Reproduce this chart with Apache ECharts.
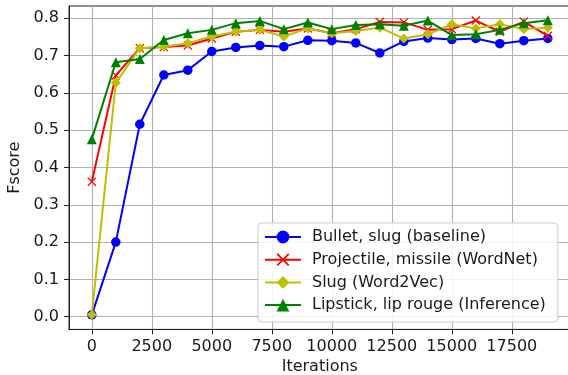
<!DOCTYPE html>
<html>
<head>
<meta charset="utf-8">
<script src="https://cdn.jsdelivr.net/npm/echarts@6/dist/echarts.min.js"></script>
<style>html,body{margin:0;padding:0;background:#fff}#c{width:568px;height:375px}</style>
</head>
<body>
<div id="c"></div>
<script>
const iterations = [0,1000,2000,3000,4000,5000,6000,7000,8000,9000,10000,11000,12000,13000,14000,15000,16000,17000,18000,19000];
const baseline = [0.005,0.200,0.516,0.648,0.661,0.711,0.722,0.727,0.724,0.741,0.740,0.734,0.707,0.738,0.747,0.743,0.746,0.732,0.740,0.746];
const wordnet  = [0.362,0.647,0.720,0.723,0.727,0.746,0.764,0.769,0.764,0.773,0.760,0.771,0.790,0.789,0.769,0.771,0.794,0.764,0.791,0.753];
const word2vec = [0.005,0.627,0.720,0.724,0.733,0.751,0.764,0.769,0.751,0.773,0.760,0.766,0.775,0.746,0.757,0.784,0.773,0.784,0.771,0.775];
const inference= [0.476,0.682,0.691,0.742,0.760,0.769,0.787,0.793,0.771,0.789,0.771,0.782,0.784,0.780,0.794,0.755,0.757,0.769,0.787,0.795];
const seriesNames = ['Bullet, slug (baseline)','Projectile, missile (WordNet)','Slug (Word2Vec)','Lipstick, lip rouge (Inference)'];
const xTicks = [0,2500,5000,7500,10000,12500,15000,17500];
const yTicks = [0,0.1,0.2,0.3,0.4,0.5,0.6,0.7,0.8];

const FONT = 'DejaVu Sans';
const TXT = '#1a1a1a';
const FS = 16;
const crossPath = 'path://M0,1 L1,0 L5,4 L9,0 L10,1 L6,5 L10,9 L9,10 L5,6 L1,10 L0,9 L4,5 Z';

function pairs(arr){ return iterations.map((x,i)=>[x,arr[i]]); }

const styles = [
  {data: baseline, color:'#0000ff', symbol:'circle', size:9.5},
  {data: wordnet, color:'#ff0000', symbol:crossPath, size:9},
  {data: word2vec, color:'#bfbf00', symbol:'diamond', size:10},
  {data: inference, color:'#008000', symbol:'triangle', size:10}
];

const chart = echarts.init(document.getElementById('c'), null, {renderer:'canvas'});
chart.setOption({
  animation:false,
  backgroundColor:'#fff',
  textStyle:{fontFamily:FONT},
  grid:{left:69, top:6, width:501.6, height:323.4, show:true, borderColor:'#222', borderWidth:1, backgroundColor:'transparent', containLabel:false, outerBoundsMode:'none'},
  xAxis:{
    type:'value', min:-950, max:19950,
    name:'Iterations', nameLocation:'middle', nameGap:28,
    nameTextStyle:{fontSize:FS, color:TXT, fontFamily:FONT},
    axisLine:{show:true, onZero:false, lineStyle:{color:'#222', width:1}},
    axisTick:{show:true, inside:false, length:5, lineStyle:{color:'#222', width:1}, customValues:xTicks},
    axisLabel:{fontSize:FS, color:TXT, margin:9, fontFamily:FONT, customValues:xTicks, formatter:v=>String(v)},
    splitLine:{show:true, lineStyle:{color:'#b0b0b0', width:1.1}}
  },
  yAxis:{
    type:'value', min:-0.034, max:0.833,
    name:'Fscore', nameLocation:'middle', nameGap:39,
    nameTextStyle:{fontSize:FS, color:TXT, fontFamily:FONT},
    axisLine:{show:true, onZero:false, lineStyle:{color:'#222', width:1}},
    axisTick:{show:true, inside:false, length:5, lineStyle:{color:'#222', width:1}, customValues:yTicks},
    axisLabel:{fontSize:FS, color:TXT, margin:10, fontFamily:FONT, customValues:yTicks, formatter:v=>v.toFixed(1)},
    splitLine:{show:true, lineStyle:{color:'#b0b0b0', width:1.1}}
  },
  legend:{
    orient:'vertical', left:258, top:223,
    itemWidth:36, itemHeight:16, itemGap:6.7,
    padding:[6,12,9,6],
    backgroundColor:'rgba(255,255,255,0.85)',
    borderColor:'#cccccc', borderWidth:1, borderRadius:4,
    textStyle:{fontSize:FS, color:TXT, fontFamily:FONT, padding:[0,0,0,6]},
    data:seriesNames
  },
  series: styles.map((s,i)=>({
    name:seriesNames[i], type:'line', data:pairs(s.data),
    symbol:s.symbol, symbolSize:s.size, showAllSymbol:true,
    lineStyle:{color:s.color, width:2},
    itemStyle:{color:s.color, borderColor:s.color, borderWidth:0},
    z:2+i
  }))
});
</script>
</body>
</html>
